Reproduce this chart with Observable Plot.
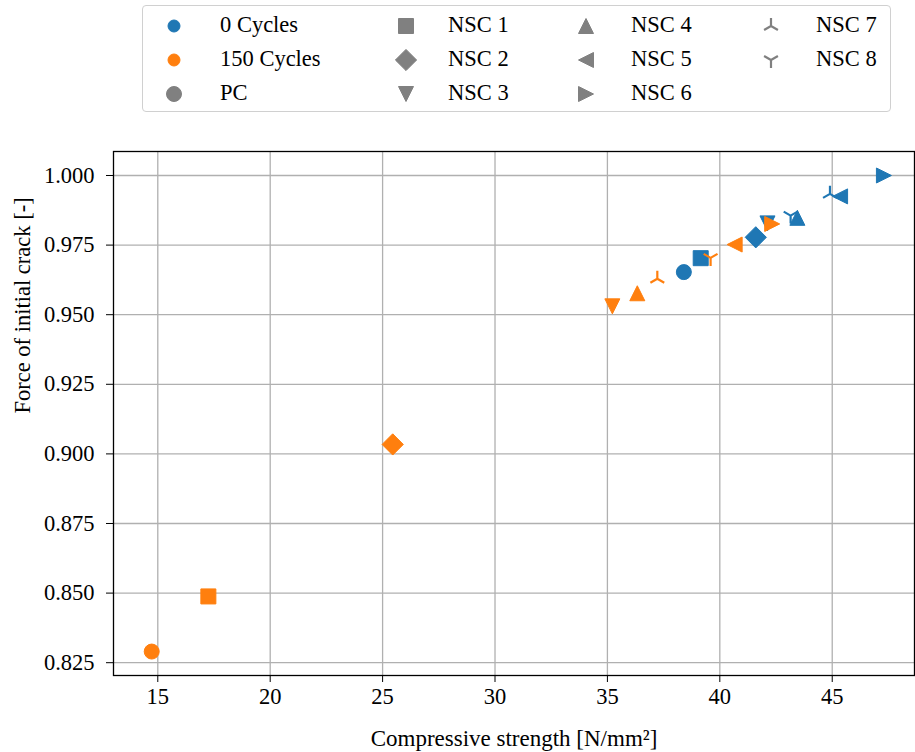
<!DOCTYPE html>
<html>
<head>
<meta charset="utf-8">
<script src="https://cdn.jsdelivr.net/npm/d3@7"></script>
<script src="https://cdn.jsdelivr.net/npm/@observablehq/plot@0.6"></script>
<style>
  body { margin: 0; background: #fff; }
  #wrap { position: relative; width: 915px; height: 752px; font-family: "Liberation Serif", "Times New Roman", serif; }
  #legend { position: absolute; left: 142px; top: 5px; width: 749px; height: 107px; border: 1.3px solid #d0d0d0; border-radius: 4px; background: #fff; box-sizing: border-box; z-index: 2; }
  .item { position: absolute; font-size: 22.5px; line-height: 22px; color: #000; white-space: nowrap; }
  .mk { position: absolute; }
</style>
</head>
<body>
<div id="wrap">
  <div id="legend"></div>
  <div id="chart"></div>
</div>
<script>
// ---- data ----
const groups = ["PC", "NSC 1", "NSC 2", "NSC 3", "NSC 4", "NSC 5", "NSC 6", "NSC 7", "NSC 8"];
const shapes = ["circle", "square", "diamond", "tdown", "tup", "tleft", "tright", "triup", "tridown"];
const strength0 = [38.40, 39.15, 41.60, 42.12, 43.45, 45.35, 47.30, 44.90, 43.15];
const force0    = [0.9653, 0.9703, 0.9778, 0.9828, 0.9848, 0.9925, 1.0000, 0.9934, 0.9856];
const strength150 = [14.73, 17.25, 25.45, 35.22, 36.33, 40.66, 42.33, 37.22, 39.59];
const force150    = [0.8290, 0.8488, 0.9034, 0.9530, 0.9577, 0.9752, 0.9826, 0.9629, 0.9704];
const cycles = ["0 Cycles", "150 Cycles"];
const cycleColors = ["#1f77b4", "#ff7f0e"];
const xTicks = [15, 20, 25, 30, 35, 40, 45];
const yTicks = [0.825, 0.850, 0.875, 0.900, 0.925, 0.950, 0.975, 1.000];
const xLabel = "Compressive strength [N/mm²]";
const yLabel = "Force of initial crack [-]";

// ---- marker shapes (matplotlib-like), h = half marker size ----
function drawShape(ctx, name, h) {
  const s = Math.SQRT2 * h, a = 0.866 * h, b = 0.5 * h;
  switch (name) {
    case "circle": ctx.moveTo(h, 0); ctx.arc(0, 0, h, 0, 2 * Math.PI); break;
    case "square": ctx.rect(-h, -h, 2 * h, 2 * h); break;
    case "diamond": ctx.moveTo(0, -s); ctx.lineTo(s, 0); ctx.lineTo(0, s); ctx.lineTo(-s, 0); ctx.closePath(); break;
    case "tup": ctx.moveTo(0, -h); ctx.lineTo(h, h); ctx.lineTo(-h, h); ctx.closePath(); break;
    case "tdown": ctx.moveTo(0, h); ctx.lineTo(h, -h); ctx.lineTo(-h, -h); ctx.closePath(); break;
    case "tleft": ctx.moveTo(-h, 0); ctx.lineTo(h, -h); ctx.lineTo(h, h); ctx.closePath(); break;
    case "tright": ctx.moveTo(h, 0); ctx.lineTo(-h, -h); ctx.lineTo(-h, h); ctx.closePath(); break;
    case "triup": ctx.moveTo(0, 0); ctx.lineTo(0, -h); ctx.moveTo(0, 0); ctx.lineTo(a, b); ctx.moveTo(0, 0); ctx.lineTo(-a, b); break;
    case "tridown": ctx.moveTo(0, 0); ctx.lineTo(0, h); ctx.moveTo(0, 0); ctx.lineTo(a, -b); ctx.moveTo(0, 0); ctx.lineTo(-a, -b); break;
  }
}
function symbolOf(name) {
  return { draw(ctx, size) { drawShape(ctx, name, Math.sqrt(size / Math.PI)); } };
}
const isLine = n => n === "triup" || n === "tridown";

// ---- table ----
const rows = [];
[[strength0, force0], [strength150, force150]].forEach(([xs, ys], c) => {
  groups.forEach((g, i) => rows.push({ group: g, shape: shapes[i], cycle: cycles[c], x: xs[i], y: ys[i] }));
});

const FONT = "'Liberation Serif', 'Times New Roman', serif";
const marks = [
  Plot.ruleX(xTicks, { stroke: "#b0b0b0", strokeWidth: 1.3 }),
  Plot.ruleY(yTicks, { stroke: "#b0b0b0", strokeWidth: 1.3 })
];
rows.forEach(r => {
  const col = cycleColors[cycles.indexOf(r.cycle)];
  const line = isLine(r.shape);
  marks.push(Plot.dot([r], {
    x: "x", y: "y", r: line ? 8 : 7.5,
    symbol: symbolOf(r.shape),
    fill: line ? "none" : col,
    stroke: col,
    strokeWidth: line ? 2.2 : 1
  }));
});
marks.push(Plot.frame({ stroke: "#000", strokeWidth: 1.3 }));
marks.push(Plot.text([xLabel], { text: d => d, frameAnchor: "bottom", dy: 63, lineAnchor: "middle", fontSize: 23, fill: "#000" }));
marks.push(Plot.text([yLabel], { text: d => d, frameAnchor: "left", dx: -91, rotate: -90, lineAnchor: "middle", fontSize: 22.5, fill: "#000" }));

const chart = Plot.plot({
  width: 915,
  height: 752,
  marginTop: 151,
  marginBottom: 77,
  marginLeft: 113,
  marginRight: 1,
  style: { fontFamily: FONT, fontSize: "22.5px", color: "#000", background: "transparent" },
  x: {
    domain: [13.03, 48.66],
    ticks: xTicks,
    tickSize: 7,
    tickPadding: 6,
    tickFormat: d3.format("d"),
    label: null
  },
  y: {
    domain: [0.8204, 1.00862],
    ticks: yTicks,
    tickSize: 7,
    tickPadding: 12,
    tickFormat: d3.format(".3f"),
    label: null
  },
  marks
});
document.getElementById("chart").appendChild(chart);

// ---- legend ----
const legend = document.getElementById("legend");
const L = 142, T = 5;
function addItem(cx, cy, tx, label, shape, color, h) {
  const size = 26;
  const ns = "http://www.w3.org/2000/svg";
  const svg = document.createElementNS(ns, "svg");
  svg.setAttribute("width", size); svg.setAttribute("height", size);
  svg.setAttribute("class", "mk");
  svg.style.left = (cx - L - size / 2) + "px";
  svg.style.top = (cy - T - size / 2) + "px";
  const p = d3.path();
  drawShape(p, shape, h);
  const path = document.createElementNS(ns, "path");
  path.setAttribute("d", p.toString());
  path.setAttribute("transform", `translate(${size / 2},${size / 2})`);
  if (isLine(shape)) {
    path.setAttribute("fill", "none"); path.setAttribute("stroke", color); path.setAttribute("stroke-width", 2.2);
  } else {
    path.setAttribute("fill", color); path.setAttribute("stroke", color); path.setAttribute("stroke-width", 1);
  }
  svg.appendChild(path);
  legend.appendChild(svg);
  const t = document.createElement("div");
  t.className = "item";
  t.textContent = label;
  t.style.left = (tx - L) + "px";
  t.style.top = (cy - T - 12) + "px";
  legend.appendChild(t);
}
const rowsY = [25, 59, 93];
addItem(173, rowsY[0], 219, cycles[0], "circle", cycleColors[0], 6);
addItem(173, rowsY[1], 219, cycles[1], "circle", cycleColors[1], 6);
addItem(173, rowsY[2], 219, groups[0], "circle", "#808080", 7.5);
const colMk = [405, 585, 770], colTx = [447, 630, 815];
for (let i = 1; i < groups.length; i++) {
  const col = Math.floor((i - 1) / 3), row = (i - 1) % 3;
  addItem(colMk[col], rowsY[row], colTx[col], groups[i], shapes[i], "#808080", isLine(shapes[i]) ? 8 : 7.5);
}
</script>
</body>
</html>
